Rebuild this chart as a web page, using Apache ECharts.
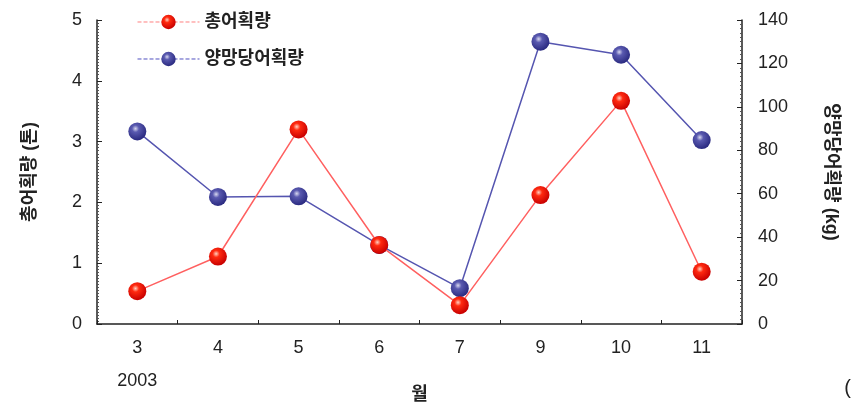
<!DOCTYPE html>
<html><head><meta charset="utf-8">
<script src="https://cdn.jsdelivr.net/npm/echarts@6/dist/echarts.min.js"></script>
<style>html,body{margin:0;padding:0;background:#fff}#c{width:855px;height:414px}</style>
</head><body><div id="c"></div>
<script>
const months = ['3','4','5','6','7','9','10','11'];
const yearLabel = '2003';
const totalCatch = [0.54, 1.11, 3.2, 1.3, 0.31, 2.12, 3.67, 0.86];
const catchPerHaul = [88.7, 58.5, 58.8, 36.4, 16.5, 130, 124, 84.7];
const leftTicks = [0, 5, 1];
const rightTicks = [0, 140, 20];
const names = ['총어획량', '양망당어획량'];

const FONT = '"Liberation Sans", "Noto Sans CJK KR", sans-serif';
const chart = echarts.init(document.getElementById('c'));
const redBall = {type:'radial', x:0.4, y:0.35, r:0.65, colorStops:[{offset:0,color:'#ffd0c0'},{offset:0.3,color:'#ff2a10'},{offset:1,color:'#c80000'}]};
const blueBall = {type:'radial', x:0.4, y:0.35, r:0.65, colorStops:[{offset:0,color:'#d8d8f0'},{offset:0.3,color:'#5a5ab0'},{offset:1,color:'#2a2a80'}]};
const txt = {fontSize:18, color:'#222', fontFamily:FONT};
chart.setOption({
  animation:false,
  textStyle:{fontFamily:FONT},
  grid:{left:97, right:113, top:20, bottom:90, containLabel:false, outerBoundsMode:'none'},
  legend:{
    left:132, top:8, orient:'vertical', itemGap:19, itemWidth:62, itemHeight:18,
    textStyle:{fontSize:18, color:'#222', fontFamily:FONT, fontWeight:'bold'},
    data:[
      {name:names[0], itemStyle:{color:redBall}, lineStyle:{type:'dashed', color:'#ff8080', width:1}},
      {name:names[1], itemStyle:{color:blueBall}, lineStyle:{type:'dashed', color:'#5050c0', width:1}}
    ]
  },
  xAxis:{
    type:'category', data:months, boundaryGap:true,
    name:'월', nameLocation:'middle', nameGap:62, nameMoveOverlap:false,
    nameTextStyle:Object.assign({}, txt, {fontWeight:'bold'}),
    axisLine:{lineStyle:{color:'#222', width:1.5}},
    axisTick:{show:true, inside:true, length:4, lineStyle:{color:'#222'}},
    axisLabel:Object.assign({}, txt, {margin:8, lineHeight:33,
      formatter:(v, i) => i === 0 ? v + '\n' + yearLabel : v})
  },
  yAxis:[
    {type:'value', min:leftTicks[0], max:leftTicks[1], interval:leftTicks[2], position:'left',
     name:'총어획량 (톤)', nameLocation:'middle', nameGap:58, nameRotate:90, nameMoveOverlap:false,
     nameTextStyle:Object.assign({}, txt, {fontWeight:'bold'}),
     axisLine:{show:true, lineStyle:{color:'#222', width:1.5}},
     axisTick:{show:true, inside:true, length:5, lineStyle:{color:'#222'}},
     minorTick:{show:true, splitNumber:20, length:2, lineStyle:{color:'#555'}},
     splitLine:{show:false},
     axisLabel:Object.assign({}, txt, {margin:15})},
    {type:'value', min:rightTicks[0], max:rightTicks[1], interval:rightTicks[2], position:'right',
     name:'양망당어획량 (kg)', nameLocation:'middle', nameGap:80, nameRotate:-90, nameMoveOverlap:false,
     nameTextStyle:Object.assign({}, txt, {fontWeight:'bold'}),
     axisLine:{show:true, lineStyle:{color:'#222', width:1.5}},
     axisTick:{show:true, inside:true, length:5, lineStyle:{color:'#222'}},
     minorTick:{show:true, splitNumber:10, length:2, lineStyle:{color:'#555'}},
     splitLine:{show:false},
     axisLabel:Object.assign({}, txt, {margin:16})}
  ],
  series:[
    {name:names[0], type:'line', yAxisIndex:0, data:totalCatch, symbol:'circle', symbolSize:18,
     itemStyle:{color:redBall}, lineStyle:{color:'#ff6060', width:1.5}, z:3},
    {name:names[1], type:'line', yAxisIndex:1, data:catchPerHaul, symbol:'circle', symbolSize:18,
     itemStyle:{color:blueBall}, lineStyle:{color:'#5555b0', width:1.5}, z:2}
  ],
  graphic:[{type:'text', right:4, top:378, style:{text:'(', fontSize:20, fill:'#222', fontFamily:FONT}}]
});
</script></body></html>
